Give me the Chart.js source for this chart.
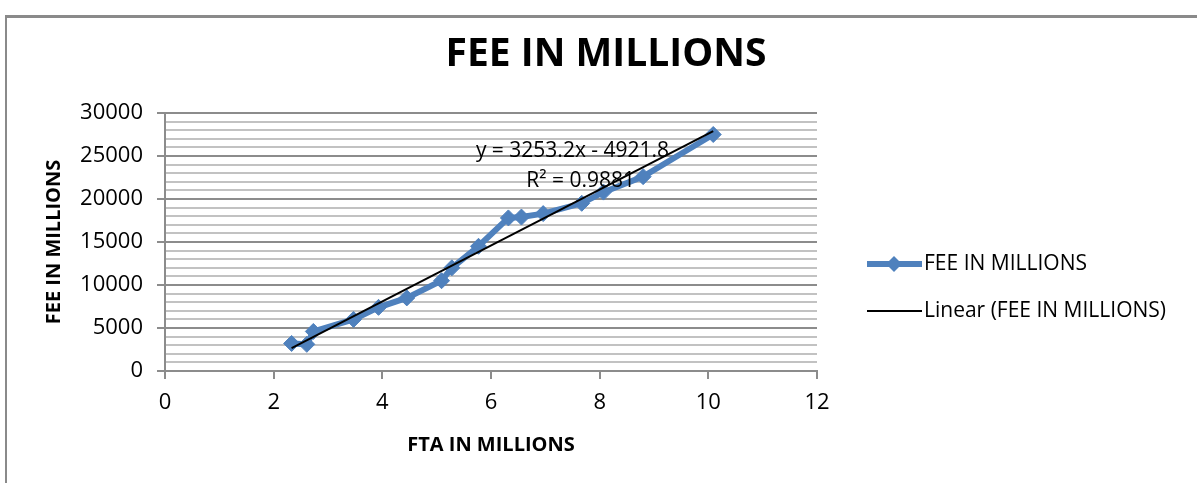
<!DOCTYPE html>
<html>
<head>
<meta charset="utf-8">
<script src="https://cdn.jsdelivr.net/npm/chart.js@4.4.1/dist/chart.umd.min.js"></script>
<style>
  html, body { margin: 0; padding: 0; background: #fff; }
  #wrap { position: relative; width: 1197px; height: 483px; overflow: hidden; }
  #frame { position: absolute; left: 5px; top: 15px; width: 1300px; height: 600px;
           border-left: 2px solid #8a8a8a; border-top: 3px solid #8a8a8a; }
  canvas { position: absolute; left: 0; top: 0; }
</style>
</head>
<body>
<div id="wrap">
  <div id="frame"></div>
  <canvas id="chart" width="1197" height="483"></canvas>
</div>
<script>
const TITLE = 'FEE IN MILLIONS';
const X_TITLE = 'FTA IN MILLIONS';
const Y_TITLE = 'FEE IN MILLIONS';
const SERIES_LABEL = 'FEE IN MILLIONS';
const TREND_LABEL = 'Linear (FEE IN MILLIONS)';

// FTA (x) and FEE (y)
const fta = [2.33, 2.61, 2.73, 3.47, 3.93, 4.45, 5.09, 5.28, 5.77, 6.32, 6.56, 6.96, 7.67, 8.07, 8.80, 10.09];
const fee = [3200, 3100, 4600, 6000, 7400, 8500, 10500, 12000, 14500, 17800, 17900, 18300, 19500, 20800, 22600, 27500];

// trendline as printed on the chart
const slope = 3253.2;
const intercept = -4921.8;
const eqText = 'y = 3253.2x - 4921.8';
const r2Text = 'R² = 0.9881';

const xTicks = [0, 2, 4, 6, 8, 10, 12];
const yMax = 30000;

const BLUE = '#4f81bd';
const MAJOR = '#8c8c8c';
const MINOR = '#c2c2c2';
const FONT = "'Open Sans', sans-serif";

const xMin = Math.min(...fta), xMax = Math.max(...fta);
const trend = [xMin, xMax].map((x) => ({ x, y: slope * x + intercept }));

const overlay = {
  id: 'overlay',
  afterDatasetsDraw(chart) {
    const { ctx, scales } = chart;
    ctx.save();
    // trendline equation
    ctx.fillStyle = '#000';
    ctx.font = '21px ' + FONT;
    ctx.textAlign = 'center';
    ctx.textBaseline = 'middle';
    ctx.fillText(eqText, scales.x.getPixelForValue(7.5), scales.y.getPixelForValue(25600));
    ctx.fillText(r2Text, scales.x.getPixelForValue(7.65), scales.y.getPixelForValue(22100));
    ctx.restore();
  },
  afterDraw(chart) {
    const { ctx } = chart;
    ctx.save();
    // title
    ctx.fillStyle = '#000';
    ctx.font = 'bold 39px ' + FONT;
    ctx.textAlign = 'center';
    ctx.textBaseline = 'middle';
    ctx.fillText(TITLE, 606, 55);

    // legend
    const rows = [264, 311];
    chart.data.datasets.forEach((ds, i) => {
      const y = rows[i];
      ctx.strokeStyle = ds.borderColor;
      ctx.lineWidth = ds.borderWidth;
      ctx.beginPath();
      ctx.moveTo(867, y);
      ctx.lineTo(922, y);
      ctx.stroke();
      if (ds.pointRadius > 0) {
        ctx.fillStyle = ds.pointBackgroundColor;
        ctx.beginPath();
        ctx.moveTo(894, y - 8);
        ctx.lineTo(902, y);
        ctx.lineTo(894, y + 8);
        ctx.lineTo(886, y);
        ctx.closePath();
        ctx.fill();
      }
      ctx.fillStyle = '#000';
      ctx.font = '21px ' + FONT;
      ctx.textAlign = 'left';
      ctx.fillText(ds.label, 924, y);
    });
    ctx.restore();
  },
};

const isMajor = (v) => v % 5000 === 0;

new Chart(document.getElementById('chart'), {
  type: 'scatter',
  data: {
    datasets: [
      {
        label: SERIES_LABEL,
        data: fta.map((x, i) => ({ x, y: fee[i] })),
        showLine: true,
        borderColor: BLUE,
        borderWidth: 6,
        pointStyle: 'rectRot',
        pointRadius: 8,
        pointBackgroundColor: BLUE,
        pointBorderColor: BLUE,
        pointBorderWidth: 1,
        order: 2,
      },
      {
        label: TREND_LABEL,
        data: trend,
        showLine: true,
        borderColor: '#000',
        borderWidth: 2,
        pointRadius: 0,
        order: 1,
      },
    ],
  },
  options: {
    responsive: false,
    animation: false,
    events: [],
    layout: { padding: { top: 113, right: 380, left: 0, bottom: 0 } },
    plugins: {
      legend: { display: false },
      tooltip: { enabled: false },
      title: { display: false },
    },
    scales: {
      x: {
        type: 'linear',
        min: 0,
        max: 12,
        afterBuildTicks: (scale) => { scale.ticks = xTicks.map((v) => ({ value: v })); },
        afterFit: (scale) => { scale.height = 112; },
        ticks: { color: '#000', font: { size: 22, family: FONT }, padding: 11 },
        grid: { drawOnChartArea: false, drawTicks: true, tickLength: 8, color: MAJOR, lineWidth: 2 },
        border: { display: true, color: MAJOR, width: 2 },
        title: {
          display: true,
          text: X_TITLE,
          color: '#000',
          font: { size: 20, weight: 'bold', family: FONT },
          padding: { top: 0, bottom: 26 },
        },
      },
      y: {
        min: 0,
        max: yMax,
        afterFit: (scale) => { scale.width = 165; },
        ticks: {
          stepSize: 1000,
          autoSkip: false,
          color: '#000',
          font: { size: 22, family: FONT },
          padding: 14,
          callback: (v) => (isMajor(v) ? String(v) : ''),
        },
        grid: {
          drawTicks: true,
          tickLength: 8,
          color: (c) => (isMajor(c.tick.value) ? MAJOR : MINOR),
          tickColor: (c) => (isMajor(c.tick.value) ? MAJOR : 'rgba(0,0,0,0)'),
          lineWidth: 2,
        },
        border: { display: true, color: MAJOR, width: 2 },
        title: {
          display: true,
          text: Y_TITLE,
          color: '#000',
          font: { size: 20, weight: 'bold', family: FONT },
          padding: { top: 42, bottom: 0 },
        },
      },
    },
  },
  plugins: [overlay],
});
</script>
</body>
</html>
